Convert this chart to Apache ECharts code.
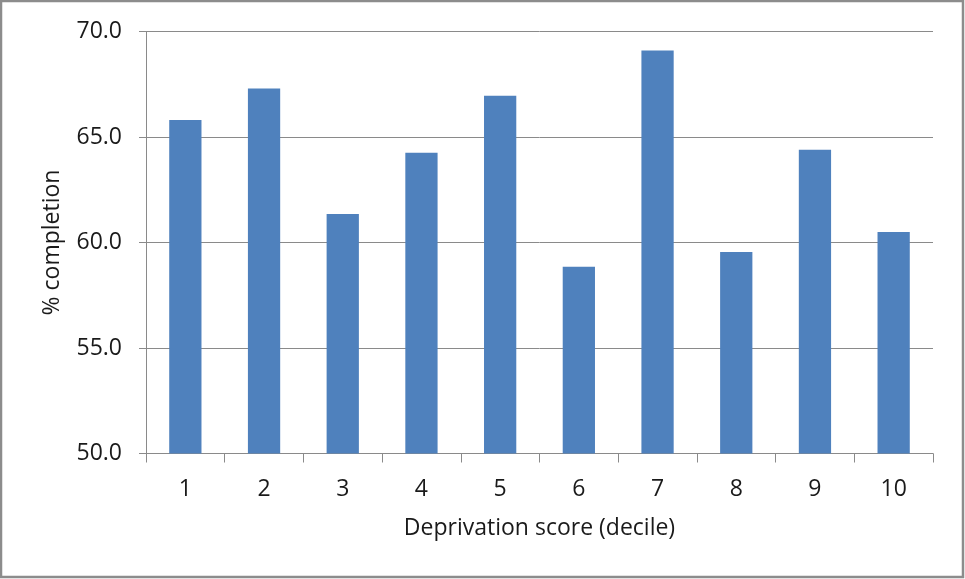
<!DOCTYPE html>
<html>
<head>
<meta charset="utf-8">
<script src="https://cdn.jsdelivr.net/npm/echarts@6/dist/echarts.min.js"></script>
<style>
  html, body { margin: 0; padding: 0; background: #fff; }
  #chart { width: 965px; height: 579px; }
</style>
</head>
<body>
<div id="chart"></div>
<script>
// Completion rate by deprivation decile
const deciles = ['1', '2', '3', '4', '5', '6', '7', '8', '9', '10'];
const completion = [65.8, 67.3, 61.35, 64.25, 66.95, 58.85, 69.1, 59.55, 64.4, 60.5];
const yTicks = [50, 55, 60, 65, 70];

const chart = echarts.init(document.getElementById('chart'), null, { renderer: 'canvas' });
const font = '"Open Sans", "Noto Sans", sans-serif';
const gridColor = '#8a8a8a';
const textColor = '#1a1a1a';

chart.setOption({
  animation: false,
  backgroundColor: '#ffffff',
  graphic: [{
    type: 'rect',
    shape: { x: 1, y: 1, width: 962, height: 576 },
    style: { fill: 'none', stroke: '#8c8c8c', lineWidth: 2.5 },
    silent: true
  }],
  grid: { left: 146, right: 32, top: 31.5, bottom: 125.5 },
  xAxis: {
    type: 'category',
    data: deciles,
    name: 'Deprivation score (decile)',
    nameLocation: 'middle',
    nameGap: 63,
    nameTextStyle: { fontFamily: font, fontSize: 23, color: textColor },
    axisLine: { show: true, lineStyle: { color: gridColor, width: 1 } },
    axisTick: { show: true, alignWithLabel: false, length: 9, lineStyle: { color: gridColor } },
    axisLabel: { fontFamily: font, fontSize: 23, color: textColor, margin: 24 },
    splitLine: { show: false }
  },
  yAxis: {
    type: 'value',
    min: yTicks[0],
    max: yTicks[yTicks.length - 1],
    interval: yTicks[1] - yTicks[0],
    name: '% completion',
    nameLocation: 'middle',
    nameGap: 82,
    nameRotate: 90,
    nameTextStyle: { fontFamily: font, fontSize: 23, color: textColor },
    axisLine: { show: true, lineStyle: { color: gridColor, width: 1 } },
    axisTick: { show: true, inside: false, length: 7, lineStyle: { color: gridColor } },
    axisLabel: {
      fontFamily: font, fontSize: 23, color: textColor, margin: 24,
      formatter: v => v.toFixed(1)
    },
    splitLine: { show: true, lineStyle: { color: gridColor, width: 1 } }
  },
  series: [{
    type: 'bar',
    data: completion,
    barWidth: '41%',
    itemStyle: { color: '#4f81bd' }
  }]
});
</script>
</body>
</html>
